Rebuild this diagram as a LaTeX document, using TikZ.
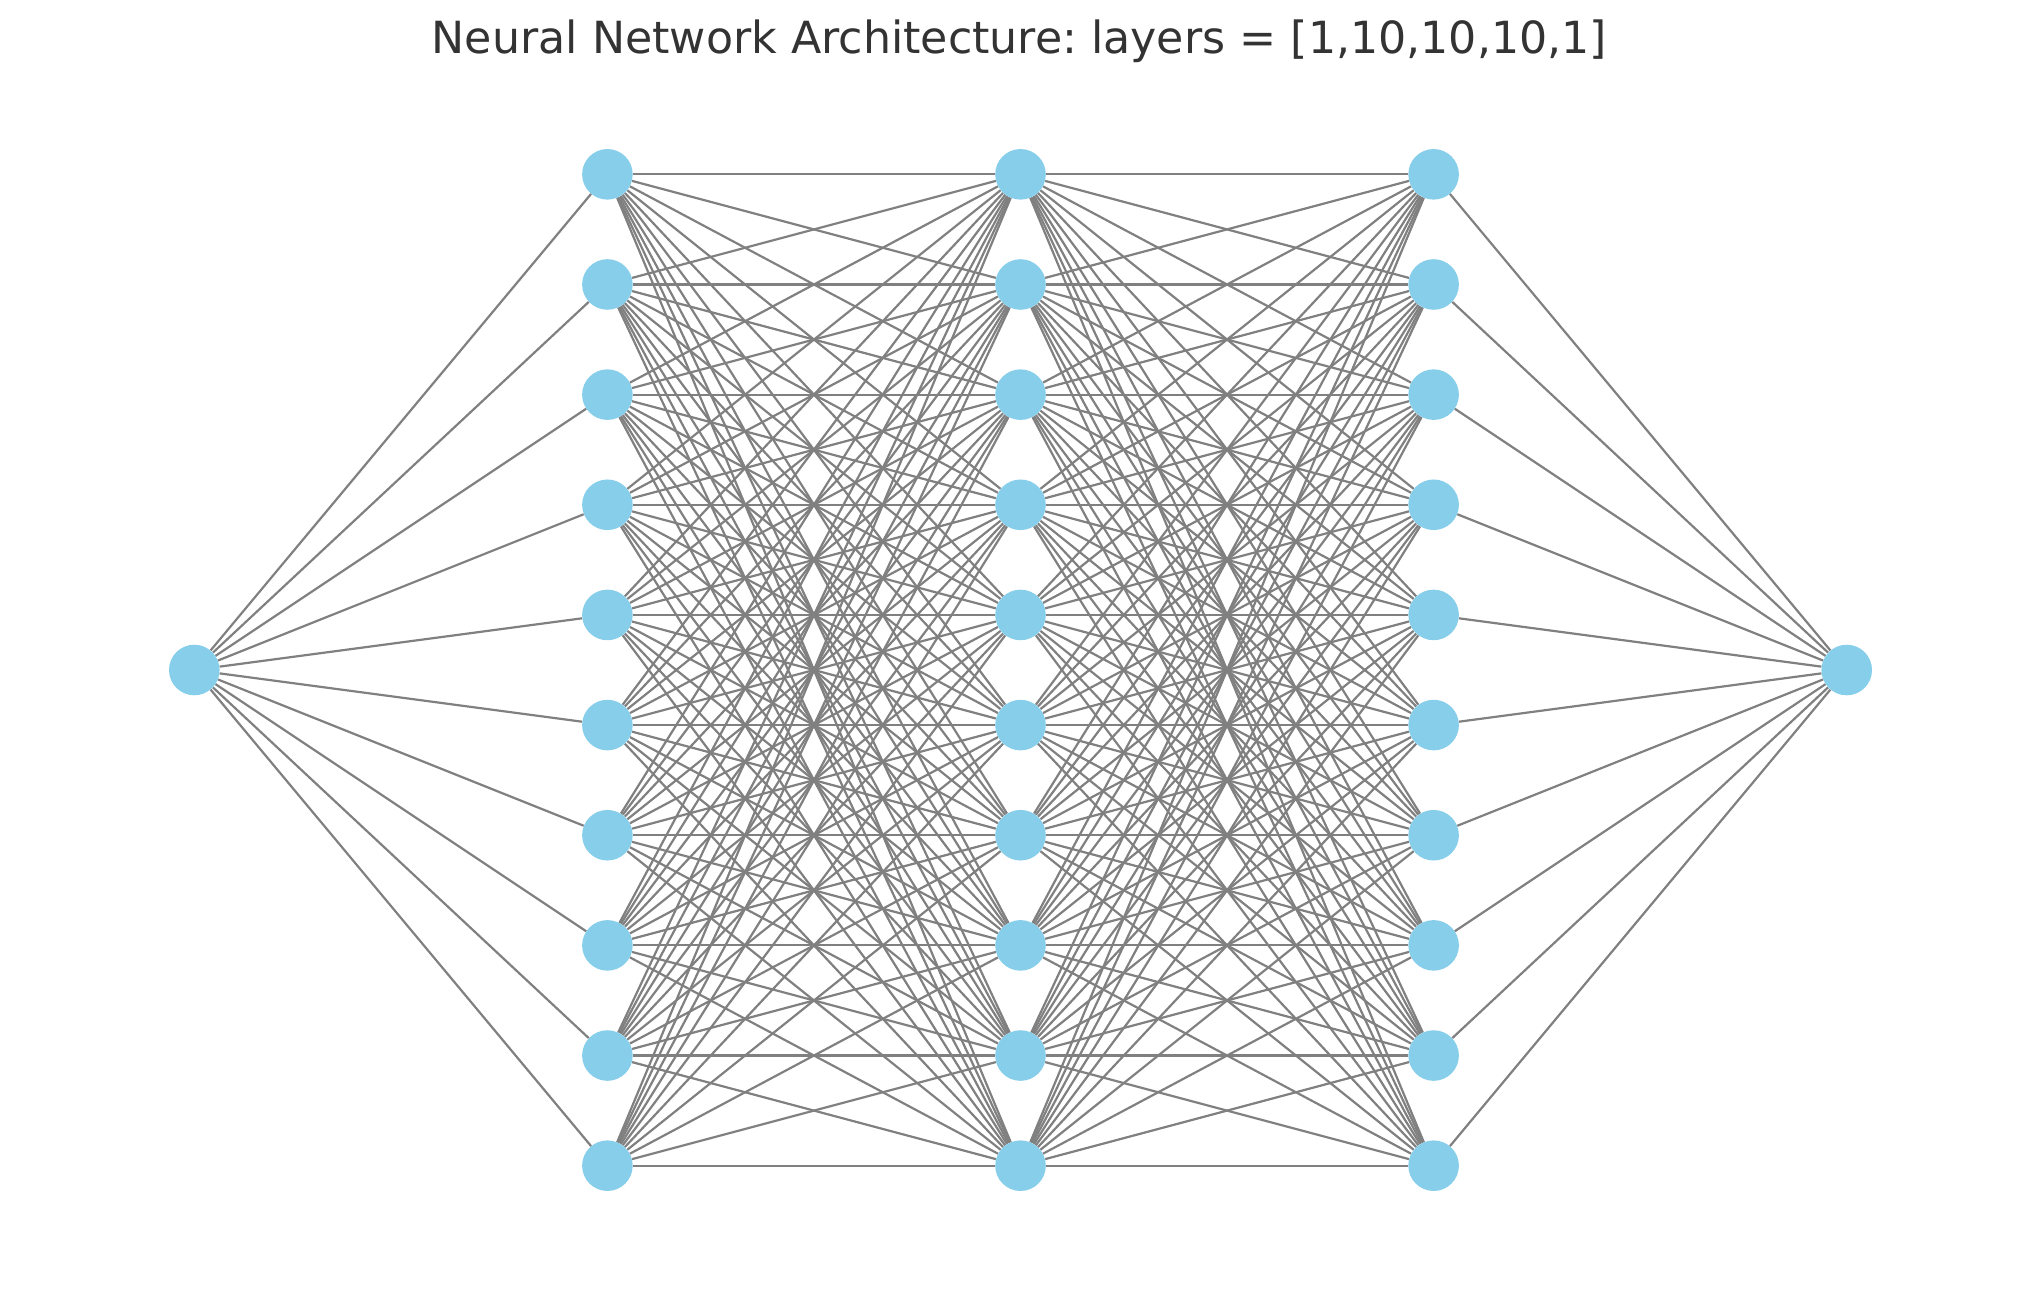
\documentclass[tikz,border=0pt]{standalone}
\usepackage{fontspec}
\setmainfont{DejaVu Sans}
\usetikzlibrary{backgrounds}
\definecolor{neuron}{HTML}{87CEEB}
\definecolor{synapse}{HTML}{808080}
\definecolor{titlegray}{HTML}{333333}
\frenchspacing
\begin{document}
\begin{tikzpicture}[x=1pt,y=-1pt,
  neuronnode/.style={circle,fill=neuron,draw=none,minimum size=50.6pt,inner sep=0pt},
  edge/.style={draw=synapse,line width=2.2pt}]
\useasboundingbox (0,0) rectangle (2039,1290);
% title
\node[text=titlegray,font=\fontsize{44.3}{52}\selectfont] (title) at (1019.5,41.5) {Neural Network Architecture: layers = [1,10,10,10,1]};
% neurons
\node[neuronnode] (in) at (194.3,670) {};
\foreach \l/\x in {1/607.4,2/1020.5,3/1433.6}{
  \foreach \i in {0,...,9}{
    \node[neuronnode] (n\l-\i) at (\x,{670+(\i-4.5)*110.15}) {};
  }
}
\node[neuronnode] (out) at (1846.7,670) {};
% connections, drawn beneath the neurons
\begin{pgfonlayer}{background}
  \foreach \i in {0,...,9}{
    \draw[edge] (in) -- (n1-\i);
    \draw[edge] (n3-\i) -- (out);
    \foreach \j in {0,...,9}{
      \draw[edge] (n1-\i) -- (n2-\j);
      \draw[edge] (n2-\i) -- (n3-\j);
    }
  }
\end{pgfonlayer}
\end{tikzpicture}
\end{document}
